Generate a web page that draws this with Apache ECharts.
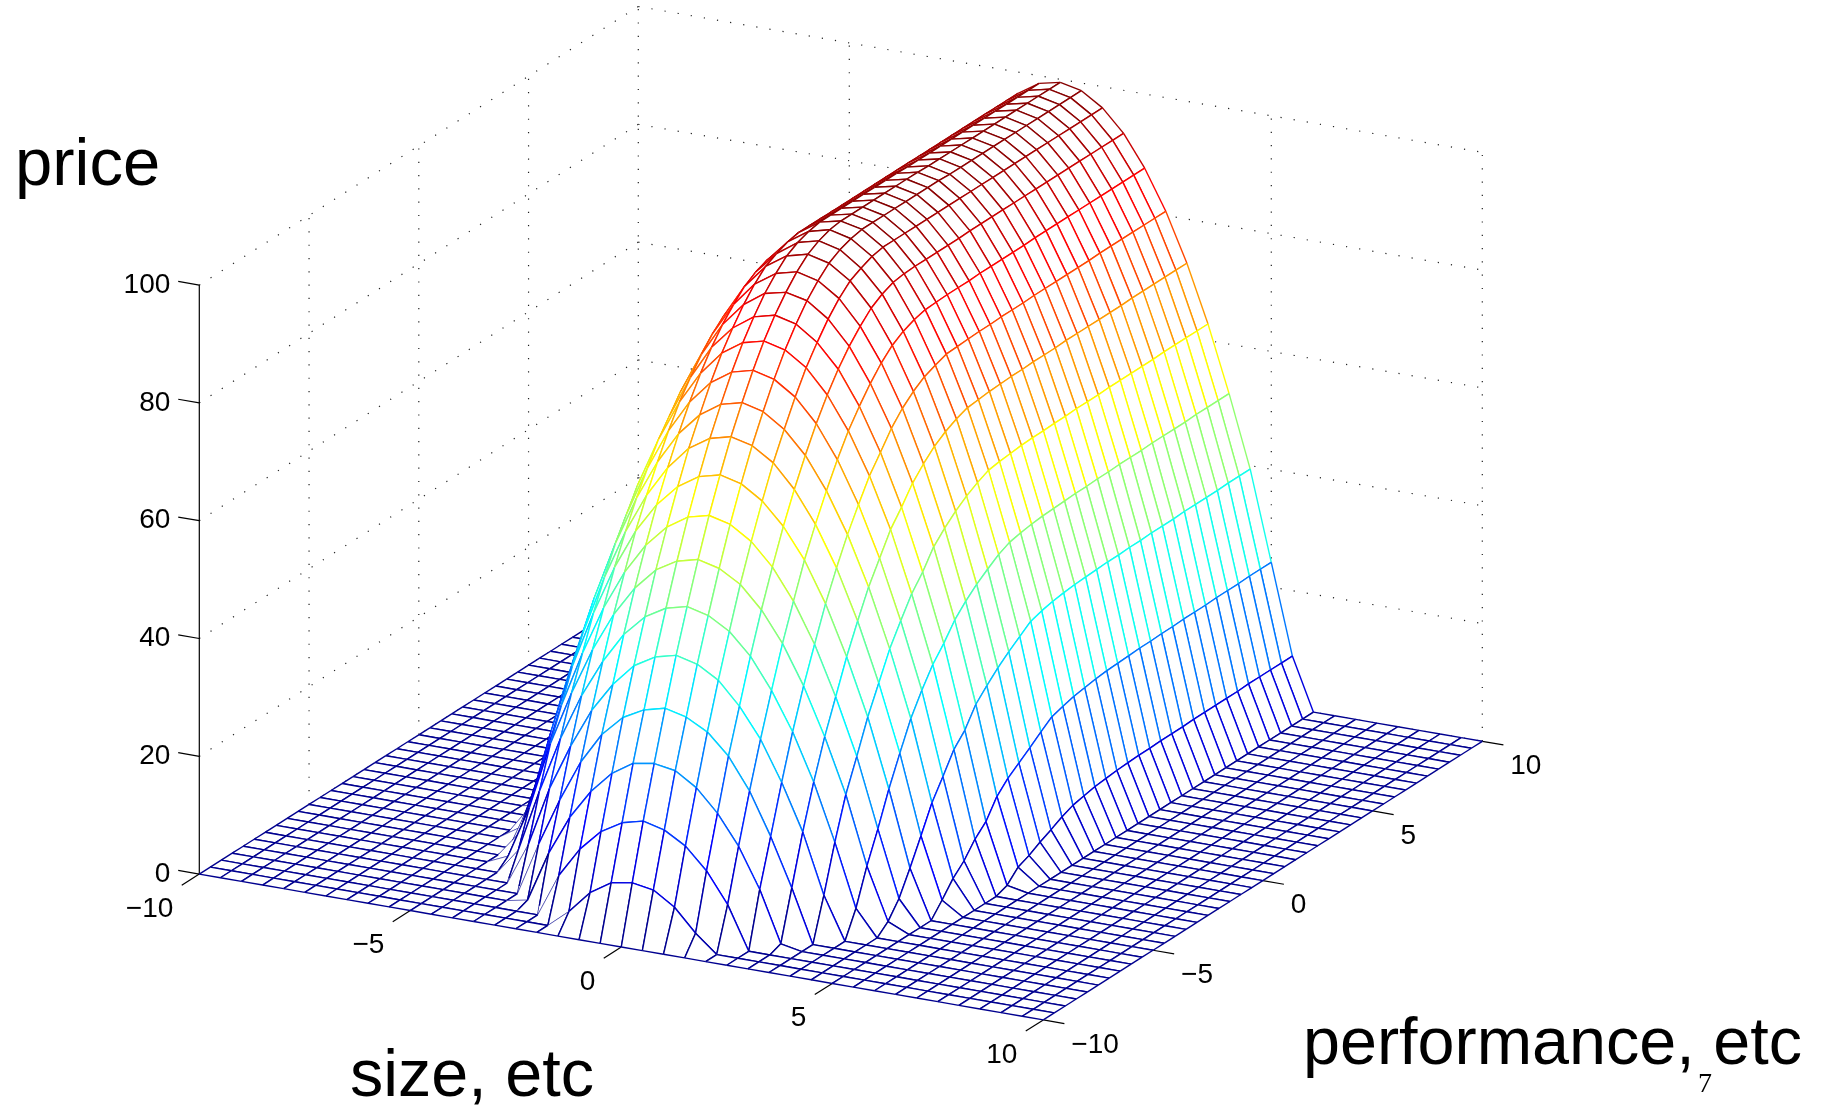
<!DOCTYPE html>
<html>
<head>
<meta charset="utf-8">
<style>html,body{margin:0;padding:0;background:#fff}#c{width:1827px;height:1107px}</style>
<script src="https://cdn.jsdelivr.net/npm/echarts@6/dist/echarts.min.js"></script>
</head>
<body>
<div id="c"></div>
<script>
// --- data ---
const sizeValues = [-10,-9.5,-9,-8.5,-8,-7.5,-7,-6.5,-6,-5.5,-5,-4.5,-4,-3.5,-3,-2.5,-2,-1.5,-1,-0.5,0,0.5,1,1.5,2,2.5,3,3.5,4,4.5,5,5.5,6,6.5,7,7.5,8,8.5,9,9.5,10];
const performanceValues = [-10,-9.5,-9,-8.5,-8,-7.5,-7,-6.5,-6,-5.5,-5,-4.5,-4,-3.5,-3,-2.5,-2,-1.5,-1,-0.5,0,0.5,1,1.5,2,2.5,3,3.5,4,4.5,5,5.5,6,6.5,7,7.5,8,8.5,9,9.5,10];
// price for each performance row, at |size| = 0, 0.5, 1, ... (the ridge is symmetric about size 0; beyond the list it is 0)
const priceByRow = [
 [0],
 [9.7,9.1,6.8,3.0,0],
 [19,18.1,16,12.4,7.3,0],
 [27.6,27,24.7,21,16,9.3,0.7,0],
 [35.8,34.9,33,29.5,24.2,17.1,9,0],
 [43.6,42.7,40.6,36.8,31.8,25.1,17.3,7.2,0],
 [50.7,49.8,47.7,44.1,38.9,32.5,24.6,15,4.4,0],
 [57.5,56.6,54.5,50.8,45.7,39.1,31.1,21.9,10.4,1.6,0],
 [63.8,62.9,60.6,56.9,51.7,45,36.7,27.2,15.5,4.3,0],
 [69.5,68.6,66.3,62.6,57.5,50.7,42.3,32.7,21.1,8.3,0],
 [74.8,73.9,71.6,67.7,62.4,55.6,47.2,37.3,26,12.6,2.3,0],
 [79.4,78.5,76.1,72.3,66.9,60.1,51.8,41.9,30.7,17,4.8,0],
 [83.7,82.8,80.4,76.5,71,64,55.5,45.5,34.3,20.3,6.6,0],
 [87.5,86.6,84.2,80.2,74.7,67.7,59.2,48.9,37.5,23.7,9.1,0],
 [90.7,89.8,87.3,83.4,77.7,70.5,61.8,51.4,39.9,25.8,10.9,0.7,0],
 [93.4,92.6,90.1,86.1,80.4,73.4,64.7,54.5,42.7,29,14,2.6,0],
 [95.7,94.8,92.4,88.3,82.7,75.6,66.8,56.5,44.7,31,15.9,3.4,0],
 [97.5,96.6,94.2,90.2,84.5,77.3,68.6,58.2,46.4,32.8,17.3,4.5,0],
 [98.6,97.7,95.2,91.4,85.7,78.6,69.9,59.6,47.8,34.4,18.7,5.4,0],
 [99.3,98.4,96,92.2,86.5,79.4,70.9,60.7,49.1,35.8,20.2,6.4,0],
 [99.6,98.8,96.4,92.5,87,80.1,71.6,61.6,50,37.2,21.6,7.2,0],
 [99.6,98.8,96.4,92.6,87.1,80.2,71.8,61.9,50.4,37.8,22.2,7.6,0],
 [99.6,98.8,96.4,92.6,87.2,80.3,72,62.1,50.7,38.2,22.7,8,0],
 [99.6,98.8,96.4,92.6,87.2,80.4,72.1,62.3,50.9,38.5,23,8.2,0],
 [99.6,98.8,96.4,92.6,87.2,80.4,72.2,62.4,51,38.7,23.3,8.4,0],
 [99.6,98.8,96.4,92.6,87.3,80.5,72.2,62.4,51.1,38.8,23.5,8.5,0],
 [99.6,98.8,96.4,92.7,87.3,80.5,72.3,62.5,51.2,38.9,23.6,8.6,0],
 [99.6,98.8,96.4,92.7,87.3,80.5,72.3,62.5,51.2,39,23.7,8.6,0],
 [99.5,98.7,96.4,92.7,87.3,80.6,72.3,62.6,51.3,39,23.8,8.7,0],
 [99.5,98.7,96.4,92.7,87.3,80.6,72.4,62.6,51.3,39.1,23.8,8.7,0],
 [99.5,98.7,96.4,92.7,87.4,80.6,72.4,62.6,51.4,39.1,23.9,8.7,0],
 [99.5,98.7,96.4,92.7,87.4,80.6,72.4,62.7,51.4,39.2,23.9,8.8,0],
 [99.5,98.7,96.4,92.7,87.4,80.6,72.4,62.7,51.4,39.2,24,8.8,0],
 [99.5,98.7,96.4,92.7,87.4,80.6,72.4,62.7,51.5,39.2,24,8.8,0],
 [99.5,98.7,96.4,92.7,87.4,80.7,72.4,62.7,51.5,39.3,24,8.8,0],
 [99.5,98.7,96.4,92.7,87.4,80.7,72.5,62.7,51.5,39.3,24.1,8.8,0],
 [99.5,98.7,96.4,92.7,87.4,80.7,72.5,62.8,51.5,39.3,24.1,8.9,0],
 [99.5,98.7,96.4,92.7,87.4,80.7,72.5,62.8,51.6,39.3,24.1,8.9,0],
 [99.5,98.7,96.4,92.7,87.4,80.7,72.5,62.8,51.6,39.4,24.2,8.9,0],
 [99.5,98.7,96.4,92.7,87.4,80.7,72.5,62.8,51.6,39.4,24.2,8.9,0],
 [99.5,98.7,96.4,92.7,87.4,80.7,72.5,62.8,51.6,39.4,24.2,8.9,0]
];
const sizeTicks = [-10,-5,0,5,10];
const performanceTicks = [-10,-5,0,5,10];
const priceTicks = [0,20,40,60,80,100];
const jetStops = ['#00008f','#0000ff','#0080ff','#00ffff','#80ff80','#ffff00','#ff8000','#ff0000','#800000'];

// --- view of the box (orthographic) ---
const view = {cx:840.8, cy:807.7, xx:42.2, xy:7.29, yx:21.95, yy:-13.93, zy:-5.89};
function project(x,y,z){
  return [view.cx+view.xx*x+view.yx*y, view.cy+view.xy*x+view.yy*y+view.zy*z];
}
function priceAt(i,j){
  const k=Math.abs(sizeValues[i])*2, row=priceByRow[j];
  return k<row.length?row[k]:0;
}
function jet(z){ return echarts.color.lerp(Math.min(1,Math.max(0,z/100)), jetStops); }
const fmt=v=>v<0?'\u2212'+(-v):String(v);
const FONT='"Liberation Sans", Arial, Helvetica, sans-serif';

// --- marks ---
const quads=[];
for(let i=0;i<sizeValues.length-1;i++){
  for(let j=performanceValues.length-2;j>=0;j--) quads.push([i,j]);
}
const dotted=[], solid=[];
const X0=sizeTicks[0], X1=sizeTicks[sizeTicks.length-1], Y0=performanceTicks[0], Y1=performanceTicks[performanceTicks.length-1], Z0=priceTicks[0], Z1=priceTicks[priceTicks.length-1];
priceTicks.forEach(z=>{
  dotted.push([X0,Y0,z,X0,Y1,z]);
  dotted.push([X0,Y1,z,X1,Y1,z]);
});
performanceTicks.slice(1).forEach(y=>dotted.push([X0,y,Z0,X0,y,Z1]));
sizeTicks.slice(1).forEach(x=>dotted.push([x,Y1,Z0,x,Y1,Z1]));
solid.push([X0,Y0,Z0,X0,Y0,Z1]);
priceTicks.forEach(z=>solid.push([X0,Y0,z,X0-0.5,Y0,z]));
sizeTicks.forEach(x=>solid.push([x,Y0,Z0,x,Y0-0.8,Z0]));
performanceTicks.forEach(y=>solid.push([X1,y,Z0,X1+0.5,y,Z0]));

const labels=[];
priceTicks.forEach(z=>labels.push([X0,Y0,z,fmt(z),'right',-29,0]));
sizeTicks.forEach(x=>labels.push([x,Y0,Z0,fmt(x),'right',-26,35]));
performanceTicks.forEach(y=>labels.push([X1,y,Z0,fmt(y),'left',28,25]));

function seg(api,d,style){
  const a=api.coord(project(d[0],d[1],d[2])), b=api.coord(project(d[3],d[4],d[5]));
  return {type:'line',shape:{x1:a[0],y1:a[1],x2:b[0],y2:b[1]},style:style,silent:true};
}
function segItem(style){
  return function(params,api){
    return seg(api,[0,1,2,3,4,5].map(k=>api.value(k)),style);
  };
}
const dims=['x1','y1','z1','x2','y2','z2'];

const chart=echarts.init(document.getElementById('c'),null,{renderer:'canvas'});
chart.setOption({
  animation:false,
  backgroundColor:'#fff',
  grid:{left:0,right:0,top:0,bottom:0},
  xAxis:{type:'value',min:0,max:1827,show:false},
  yAxis:{type:'value',min:0,max:1107,inverse:true,show:false},
  tooltip:{show:false},
  graphic:{elements:[
    {type:'text',x:15,y:167,silent:true,style:{text:'price',fill:'#000',font:'67px '+FONT,verticalAlign:'middle'}},
    {type:'text',x:350,y:1078,silent:true,style:{text:'size, etc',fill:'#000',font:'66.5px '+FONT,verticalAlign:'middle'}},
    {type:'text',x:1303,y:1046,silent:true,style:{text:'performance, etc',fill:'#000',font:'66.5px '+FONT,verticalAlign:'middle'}},
    {type:'text',x:1705,y:1085,silent:true,style:{text:'7',fill:'#000',font:'28px "Liberation Serif", serif',align:'center',verticalAlign:'middle'}}
  ]},
  series:[
    {type:'custom',name:'grid',coordinateSystem:'cartesian2d',silent:true,progressive:0,dimensions:dims,data:dotted,
     renderItem:segItem({stroke:'#222',lineWidth:1.2,lineDash:[1.2,12.1]})},
    {type:'custom',name:'axes',coordinateSystem:'cartesian2d',silent:true,progressive:0,dimensions:dims,data:solid,
     renderItem:segItem({stroke:'#000',lineWidth:1.2})},
    {type:'custom',name:'surface',coordinateSystem:'cartesian2d',silent:true,progressive:0,data:quads,
     renderItem:function(params,api){
       const i=api.value(0), j=api.value(1);
       const corner=(a,b)=>api.coord(project(sizeValues[a],performanceValues[b],priceAt(a,b)));
       const p00=corner(i,j), p10=corner(i+1,j), p11=corner(i+1,j+1), p01=corner(i,j+1);
       const line=(a,b,z,w)=>({type:'line',silent:true,shape:{x1:a[0],y1:a[1],x2:b[0],y2:b[1]},style:{stroke:jet(z),lineWidth:w||1.4}});
       const leftSide=sizeValues[i]<0;
       // on the rising left foot of the ridge the source draws the first rise hairline-thin and starts the wall lines slightly above the floor
       const rise=(z0,z1)=>leftSide&&z0===0&&z1>0;
       const z00=priceAt(i,j), z10=priceAt(i+1,j), z01=priceAt(i,j+1), z11=priceAt(i+1,j+1);
       let start=p00;
       if(rise(z00,z01)&&j>=2){ start=[p00[0]+(p01[0]-p00[0])*0.15,p00[1]+(p01[1]-p00[1])*0.15]; }
       return {type:'group',silent:true,children:[
         {type:'polygon',silent:true,shape:{points:[p00,p10,p11,p01]},style:{fill:'#fff'}},
         line(p01,p11,z01,rise(z01,z11)?0.5:0),
         line(p10,p11,z10),
         line(p00,p10,z00,rise(z00,z10)?0.5:0),
         line(start,p01,z00)
       ]};
     }},
    {type:'custom',name:'labels',coordinateSystem:'cartesian2d',silent:true,progressive:0,
     dimensions:['x','y','z',{name:'text',type:'ordinal'},{name:'align',type:'ordinal'},'dx','dy'],
     data:labels.map(l=>l.slice()),
     renderItem:function(params,api){
       const l=labels[params.dataIndex];
       const p=api.coord(project(l[0],l[1],l[2]));
       return {type:'text',silent:true,style:{x:p[0]+l[5],y:p[1]+l[6],text:l[3],align:l[4],verticalAlign:'middle',fill:'#000',font:'28px '+FONT}};
     }}
  ]
});
</script>
</body>
</html>
